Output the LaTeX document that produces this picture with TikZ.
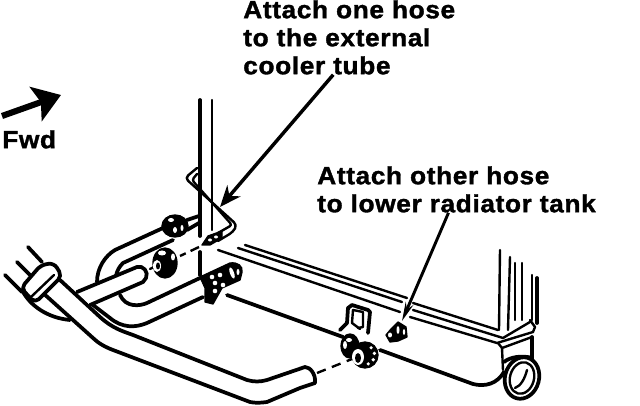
\documentclass[tikz,border=0pt]{standalone}
\usepackage{fontspec}
\setmainfont{Liberation Sans}[BoldFeatures={FakeBold=1.4,FakeStretch=1.06,LetterSpace=2.5}]
\usetikzlibrary{arrows.meta,calc}
\tikzset{
    hose/.style={line width=2.8pt, line join=round, line cap=round},
    fine/.style={line width=1.8pt, line join=round, line cap=round},
    blob/.style={fill=black, draw=black, line width=1pt, line join=round},
    spot/.style={fill=white},
    callout/.style={font=\bfseries\fontsize{18.6}{21}\selectfont, align=left, inner sep=0pt},
    pointer/.style={line width=2.6pt, -{Stealth[length=16pt,width=13pt]}}
}
\begin{document}
\begin{tikzpicture}[x=0.75pt, y=-0.75pt]
    \useasboundingbox (0,0) rectangle (640,406);
    % labels
    \node[callout, anchor=north west] (coolerlabel) at (243,0) {Attach one hose\\to the external\\cooler tube};
    \node[callout, anchor=north west] (radiatorlabel) at (317,166) {Attach other hose\\to lower radiator tank};
    \node[callout, anchor=north west] (fwdlabel) at (2,130) {Fwd};
    \coordinate (fwdtail) at (2,116);
    \coordinate (fwdtip) at (61,95);
    \draw[line width=4.6pt, -{Stealth[length=20pt,width=27pt,inset=4pt]}] (fwdtail) -- (fwdtip);

    % post behind the cooler tube
    \draw[hose] (200,100) -- (200,236);
    \draw[fine] (212,100) -- (212,230);
    \draw[hose] (200,252) -- (200,275);

    % radiator top rails
    \draw[fine] (245,245) -- (407,298);
    \draw[fine] (238,248) -- (402,302);
    \draw[fine] (218,250) -- (400,312);
    \draw[fine] (413,303) -- (498,330);
    \draw[fine] (413,310) -- (503,338) -- (530,322);
    \draw[fine] (410,317) -- (497,343) -- (533,332) -- (535,327) -- (530,320);
    % fins
    \draw[fine] (500,250) -- (499,330);
    \draw[fine] (510,257) -- (508,330);
    \draw[fine] (515,263) -- (515,320);
    \draw[fine] (522,263) -- (522,320);
    \draw[fine] (532,275) -- (532,320);
    \draw[hose] (537,278) -- (537,323);
    % tank body
    \draw[fine] (498,343) -- (502,348) -- (532,337);
    \draw[fine] (502,348) -- (503,370);
    \draw[hose] (532,337) -- (532,360);
    \draw[hose] (227,295) -- (343,337);
    \draw[hose] (380,350) -- (473,384) .. controls (485,387) and (497,384) .. (504,372);
    \draw[hose] (504,362) .. controls (510,357) and (522,355) .. (532,358);
    % port
    \draw[hose, fill=white, rotate around={-15:(522,378)}] (522,378) ellipse (17 and 21);
    \draw[fine, rotate around={-15:(522,378)}] (522,378) ellipse (12 and 16);
    \draw[fine] (527,370) .. controls (525,378) and (521,386) .. (515,388);

    % bracket and lower nut
    \draw[hose] (340,330) -- (347,323) -- (348,308) -- (352,305) -- (368,310) -- (370,312) -- (368,333);
    \draw[fine] (353,310) -- (363,312) -- (363,327) -- (358,328);
    \draw[fine] (353,310) -- (352,323) -- (360,329);
    \draw[blob] (350,346) ellipse (9 and 12);
    \fill[spot] (345,345) ellipse (2 and 4);
    \fill[spot] (349,340) ellipse (3 and 2);
    \draw[blob] (365,355) ellipse (13 and 13);
    \fill[spot] (358,357) ellipse (6 and 8);
    \fill[black] (358,358) ellipse (3 and 5);
    \foreach \ang in {-50,-10,30,70} {
        \fill[spot] ($(365,355)+(\ang:9.5)$) circle (1.8);
    }
    % second fitting
    \draw[blob] (386,335) -- (391,329) -- (398,322) -- (406,327) -- (407,337) -- (398,341) -- (390,342) -- cycle;
    \fill[spot] (390,335) ellipse (2 and 2.5);
    \fill[spot] (398,330) ellipse (1.5 and 4);
    \fill[spot] (404,332) ellipse (1.2 and 3);
    \draw[line width=2.2pt, -{Stealth[length=14pt,width=6pt]}] ([xshift=-6pt]radiatorlabel.south) -- (402,321);

    % big lower hose
    \draw[hose, fill=white] (60,280) -- (100,317) .. controls (112,328) and (122,331) .. (133,335) -- (247,380)
        .. controls (254,382) and (260,382) .. (267,380) -- (305,367)
        .. controls (310,367) and (316,374) .. (315,383) -- (300,388) -- (267,402)
        .. controls (260,403) and (255,403) .. (250,402) -- (113,350)
        .. controls (105,347) and (98,343) .. (93,338) -- (43,293);
    \draw[line width=1.8pt, dash pattern=on 7pt off 5pt] (317,373) -- (352,359);

    % left collar
    \draw[hose] (28,247) -- (42,262);
    \draw[hose] (17,262) -- (30,275);
    \draw[hose] (5,275) -- (22,292);
    \draw[hose] (22,290) .. controls (30,306) and (48,318) .. (70,320);
    \draw[hose, fill=white, rounded corners=4pt] (21,288) -- (41,265) -- (54,263) -- (62,276) -- (35,303) -- cycle;
    \draw[fine] (31,297) -- (54,275);

    % lower U hose
    \draw[hose] (200,278) -- (147,303) .. controls (140,306) and (126,308) .. (120,295);
    \draw[hose] (203,297) -- (147,323) .. controls (135,328) and (122,328) .. (110,318) -- (93,305);

    % upper hose
    \draw[hose] (163,228) -- (115,250) .. controls (105,256) and (97,268) .. (97,282);
    \draw[hose] (173,240) -- (123,263) .. controls (120,266) and (117,270) .. (116,276);
    \draw[hose] (187,220) -- (199,216);
    \draw[hose] (187,230) -- (199,223);
    % middle stub hose
    \draw[hose, fill=white] (77,292) -- (137,267) .. controls (143,265) and (149,272) .. (146,278) -- (143,282) -- (90,305);
    \draw[fine] (150,269) -- (158,265);

    % cooler tube
    \draw[fine, rounded corners=3pt] (197,168) -- (185,178) -- (237,225) -- (233,232) -- (218,241);
    \draw[fine, rounded corners=2pt] (197,174) -- (192,180) -- (232,225) -- (218,233);
    \draw[blob] (202,245) -- (208,236) -- (222,231) -- (222,238) -- (210,245) -- cycle;
    \fill[spot] (210,240) ellipse (2 and 1.5);
    \fill[spot] (216,237) ellipse (2 and 1.5);
    \draw[line width=1.8pt, dash pattern=on 7pt off 4pt] (199,247) -- (180,256);
    \draw[pointer] ([xshift=-12pt]coolerlabel.south) -- (220,207);

    % clamps and nuts
    \draw[blob] (175,226) ellipse (13 and 11);
    \fill[spot] (171,220) ellipse (3 and 2);
    \fill[spot] (175,230) ellipse (2 and 3);
    \fill[spot] (182,228) ellipse (1.5 and 3);
    \draw[blob] (165,263) ellipse (12 and 15);
    \fill[spot] (162,253) ellipse (4 and 2.5);
    \fill[spot] (173,257) ellipse (2 and 3.5);
    \fill[spot] (157,266) ellipse (4 and 6);
    \fill[black] (158,266) ellipse (2 and 3.5);
    \draw[blob] (200,277) -- (230,263) .. controls (238,262) and (243,266) .. (242,272) -- (240,280) -- (222,288) -- (213,304) -- (205,302) -- (205,288) -- cycle;
    \foreach \x/\y in {220/275,215/283,223/285,212/277,215/291} {
        \fill[spot] (\x,\y) circle (2.3);
    }
    \fill[spot, rotate around={20:(232,273)}] (232,273) ellipse (2 and 6);
    \fill[spot] (238,272) ellipse (1.5 and 3);
\end{tikzpicture}
\end{document}
